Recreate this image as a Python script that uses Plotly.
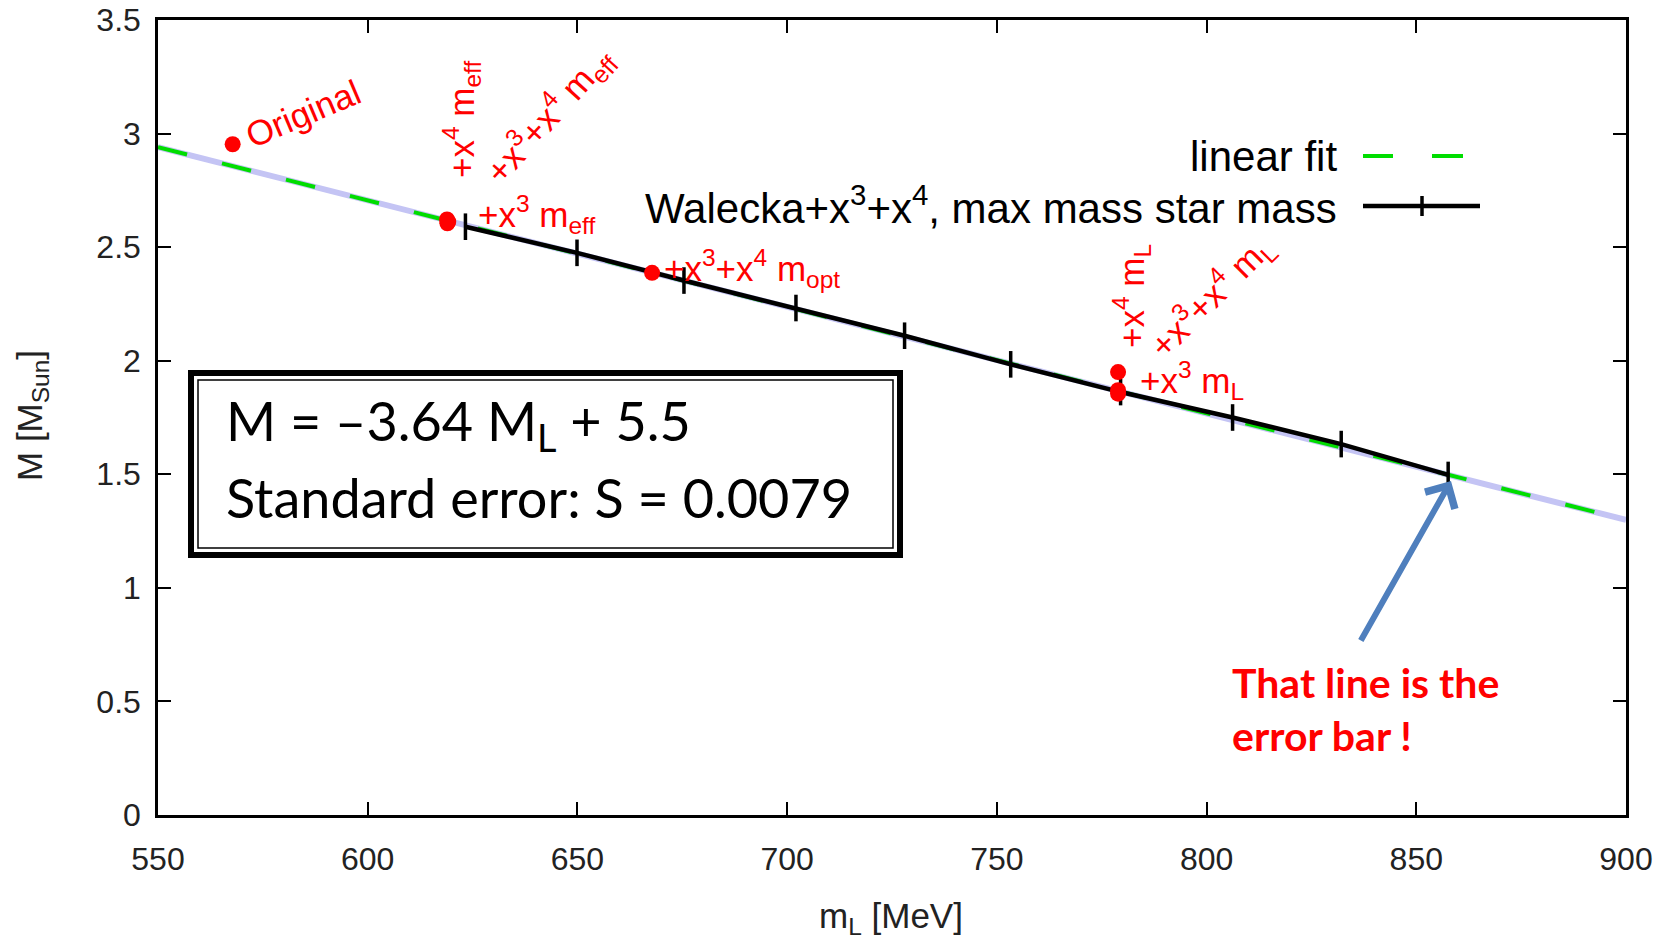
import plotly.graph_objects as go

# ---------------- data ----------------
mL_star = [623.3, 649.9, 675.4, 702.1, 728.0, 753.3, 779.5, 806.2, 832.1, 857.6]
M_star = [2.590, 2.475, 2.353, 2.232, 2.110, 1.984, 1.862, 1.750, 1.633, 1.497]

red_names = ["Original", "+x4 meff", "+x3 meff", "+x3+x4 meff", "+x3+x4 mopt",
             "+x4 mL", "+x3 mL", "+x3+x4 mL"]
red_mL = [567.8, 618.9, 619.0, 619.2, 667.8, 778.9, 778.9, 778.9]
red_M = [2.953, 2.622, 2.605, 2.612, 2.387, 1.950, 1.855, 1.870]

fit_slope = -0.00469      # per MeV
fit_intercept = 5.52
fit_x = [550, 900]
fit_y = [fit_intercept + fit_slope * v for v in fit_x]

x_ticks = [550, 600, 650, 700, 750, 800, 850, 900]
y_ticks = [0, 0.5, 1, 1.5, 2, 2.5, 3, 3.5]
y_tick_text = ["0", "0.5", "1", "1.5", "2", "2.5", "3", "3.5"]

# ---------------- layout helpers (pixel -> paper) ----------------
L, R, T, B = 158, 1626, 20, 815
def px(x):
    return (x - L) / (R - L)
def py(y):
    return (B - y) / (B - T)

TXT = "Liberation Sans, Arial, sans-serif"
RED = "#ff0000"

fig = go.Figure()

# linear fit: lavender band + green dashes
fig.add_trace(go.Scatter(x=fit_x, y=fit_y, mode="lines",
                         line=dict(color="#c4c4f4", width=6), showlegend=False, hoverinfo="skip"))
fig.add_trace(go.Scatter(x=fit_x, y=fit_y, mode="lines",
                         line=dict(color="#00dd00", width=4, dash="30px,36px"),
                         showlegend=False, hoverinfo="skip"))

# black line with vertical error-bar crosses
fig.add_trace(go.Scatter(x=mL_star, y=M_star, mode="lines",
                         line=dict(color="black", width=4.5), showlegend=False))
fig.add_trace(go.Scatter(x=mL_star, y=M_star, mode="markers",
                         marker=dict(symbol="line-ns", size=19,
                                     line=dict(color="black", width=3.5)),
                         showlegend=False))

# red points
fig.add_trace(go.Scatter(x=red_mL, y=red_M, mode="markers",
                         marker=dict(color=RED, size=16), showlegend=False,
                         text=red_names))

annotations = []
def red_label(text, x, y, angle=0, xanchor="center"):
    annotations.append(dict(text=text, x=px(x), y=py(y), xref="paper", yref="paper",
                            showarrow=False, textangle=angle, xanchor=xanchor,
                            yanchor="middle",
                            font=dict(family=TXT, size=35, color=RED)))

red_label("Original", 303, 114, -23)
red_label("+x<sup>4</sup> m<sub>eff</sub>", 462, 120, -90)
red_label("+x<sup>3</sup>+x<sup>4</sup> m<sub>eff</sub>", 549, 116, -48)
red_label("+x<sup>3</sup> m<sub>eff</sub>", 476, 215, 0, "left")
red_label("+x<sup>3</sup>+x<sup>4</sup> m<sub>opt</sub>", 662, 268, 0, "left")
red_label("+x<sup>4</sup> m<sub>L</sub>", 1131, 296, -90)
red_label("+x<sup>3</sup>+x<sup>4</sup> m<sub>L</sub>", 1211, 296, -45)
red_label("+x<sup>3</sup> m<sub>L</sub>", 1138, 380, 0, "left")

# legend (gnuplot style, key text right aligned, sample on the right)
annotations.append(dict(text="linear fit", x=px(1339), y=py(157), xref="paper", yref="paper",
                        showarrow=False, xanchor="right", yanchor="middle",
                        font=dict(family=TXT, size=42, color="black")))
annotations.append(dict(text="Walecka+x<sup>3</sup>+x<sup>4</sup>, max mass star mass",
                        x=px(1339), y=py(205), xref="paper", yref="paper",
                        showarrow=False, xanchor="right", yanchor="middle",
                        font=dict(family=TXT, size=42, color="black")))

shapes = []
shapes.append(dict(type="line", xref="paper", yref="paper", x0=px(1363), x1=px(1393),
                   y0=py(156), y1=py(156), line=dict(color="#00dd00", width=4)))
shapes.append(dict(type="line", xref="paper", yref="paper", x0=px(1432), x1=px(1463),
                   y0=py(156), y1=py(156), line=dict(color="#00dd00", width=4)))
shapes.append(dict(type="line", xref="paper", yref="paper", x0=px(1363), x1=px(1480),
                   y0=py(206), y1=py(206), line=dict(color="black", width=4.5)))
shapes.append(dict(type="line", xref="paper", yref="paper", x0=px(1422), x1=px(1422),
                   y0=py(196), y1=py(216), line=dict(color="black", width=3.5)))

# equation box: thick outer border + thin inner border
shapes.append(dict(type="rect", xref="paper", yref="paper", x0=px(191), x1=px(900),
                   y0=py(373), y1=py(555), line=dict(color="black", width=6),
                   fillcolor="white", layer="above"))
shapes.append(dict(type="rect", xref="paper", yref="paper", x0=px(198), x1=px(893),
                   y0=py(380), y1=py(548), line=dict(color="black", width=1.5),
                   layer="above"))

BOX = "Lato, Open Sans, sans-serif"
annotations.append(dict(text="M = \u20133.64 M<sub>L</sub> + 5.5", x=px(224), y=py(424),
                        xref="paper", yref="paper", showarrow=False, xanchor="left",
                        yanchor="middle", font=dict(family=BOX, size=54, color="black")))
annotations.append(dict(text="Standard error: S = 0.0079", x=px(224), y=py(497),
                        xref="paper", yref="paper", showarrow=False, xanchor="left",
                        yanchor="middle", font=dict(family=BOX, size=54, color="black")))

# arrow + note
annotations.append(dict(text="", x=px(1451), y=py(481), xref="paper", yref="paper",
                        ax=1360 - 1451, ay=642 - 481,
                        showarrow=True, arrowhead=4, arrowsize=1.1, arrowwidth=6,
                        arrowcolor="#4f7fbd"))
annotations.append(dict(text="<b>That line is the<br>error bar !</b>", x=px(1230), y=py(709),
                        xref="paper", yref="paper", showarrow=False, xanchor="left",
                        yanchor="middle", align="left",
                        font=dict(family=BOX, size=41, color=RED)))

# axis titles
annotations.append(dict(text="M [M<sub>Sun</sub>]", x=px(32), y=py(416), xref="paper", yref="paper",
                        showarrow=False, textangle=-90, xanchor="center", yanchor="middle",
                        font=dict(family=TXT, size=35, color="#222")))
annotations.append(dict(text="m<sub>L</sub> [MeV]", x=px(891), y=py(918), xref="paper", yref="paper",
                        showarrow=False, xanchor="center", yanchor="middle",
                        font=dict(family=TXT, size=35, color="#222")))

axis_common = dict(showgrid=False, zeroline=False, showline=True, linecolor="black",
                   linewidth=2.5, mirror="ticks", ticks="inside", ticklen=13,
                   tickwidth=2, tickcolor="black", ticklabeloverflow="allow",
                   automargin=False,
                   tickfont=dict(family=TXT, size=32, color="#222"))

fig.update_layout(
    width=1673, height=940,
    margin=dict(l=L, r=1673 - R, t=T, b=940 - B, autoexpand=False),
    paper_bgcolor="white", plot_bgcolor="white",
    showlegend=False,
    xaxis=dict(range=[550, 900], tickvals=x_ticks, ticktext=[str(v) for v in x_ticks],
               ticklabelstandoff=14, **axis_common),
    yaxis=dict(range=[-0.0001, 3.5001], tickvals=y_ticks, ticktext=y_tick_text,
               ticklabelstandoff=8, **axis_common),
    annotations=annotations,
    shapes=shapes,
)

fig.write_html("out.html")
